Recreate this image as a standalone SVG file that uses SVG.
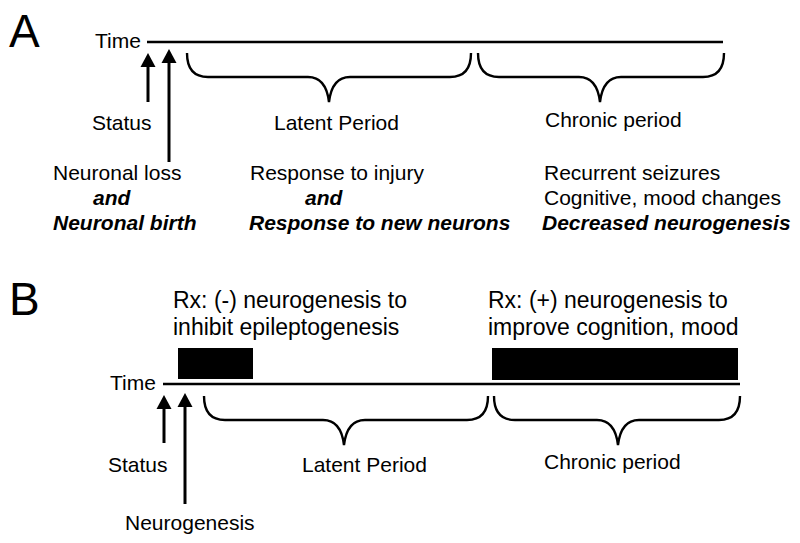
<svg xmlns="http://www.w3.org/2000/svg" width="800" height="543" viewBox="0 0 800 543">
<style>
text{font-family:"Liberation Sans",Arial,sans-serif;font-size:21px;fill:#000}
.big{font-size:46px}
.rx{font-size:23px}
.bi{font-weight:bold;font-style:italic}
.line{stroke:#000;stroke-width:2.4;fill:none}
.brace{stroke:#000;stroke-width:2.4;fill:none}
.arrow{stroke:#000;stroke-width:3;fill:none}
.head{fill:#000}
.bar{fill:#000}
</style>
<rect width="800" height="543" fill="#fff"/>
<g id="panelA">
  <text id="labelA" class="big" x="9" y="47">A</text>
  <g id="timeA"><text x="95" y="48">Time</text><line class="line" x1="147" y1="42" x2="723" y2="42"/></g>
  <g id="connectorsA">
    <line class="arrow" x1="148" y1="64" x2="148" y2="102"/>
    <polygon class="head" points="148,53 140.5,67 155.5,67"/>
    <line class="arrow" x1="169" y1="60" x2="169" y2="162"/>
    <polygon class="head" points="169,49 161.5,63 176.5,63"/>
    <path class="brace" d="M187,53 Q187,77 208,77 L308,77 Q326,77 329,102 Q332,77 350,77 L450,77 Q471,77 471,53"/>
    <path class="brace" d="M478,53 Q478,77 499,77 L579,77 Q597,77 600,102 Q603,77 621,77 L703,77 Q724,77 724,53"/>
  </g>
  <g id="statusA"><text x="92" y="130">Status</text></g>
  <g id="latentA"><text x="274" y="130">Latent Period</text></g>
  <g id="chronicA"><text x="545" y="127">Chronic period</text></g>
  <g id="lossA">
    <text x="53" y="180">Neuronal loss</text>
    <text class="bi" x="93" y="205">and</text>
    <text class="bi" x="53" y="230">Neuronal birth</text>
  </g>
  <g id="responseA">
    <text x="250" y="180">Response to injury</text>
    <text class="bi" x="305" y="205">and</text>
    <text class="bi" x="249" y="230">Response to new neurons</text>
  </g>
  <g id="recurrentA">
    <text x="544" y="180">Recurrent seizures</text>
    <text x="544" y="205">Cognitive, mood changes</text>
    <text class="bi" x="542" y="230">Decreased neurogenesis</text>
  </g>
</g>
<g id="panelB">
  <text id="labelB" class="big" x="9" y="315">B</text>
  <g id="rxMinus">
    <text class="rx" x="173" y="308">Rx: (-) neurogenesis to</text>
    <text class="rx" x="173" y="335">inhibit epileptogenesis</text>
    <rect class="bar" x="178" y="348" width="75" height="31"/>
  </g>
  <g id="rxPlus">
    <text class="rx" x="488" y="308">Rx: (+) neurogenesis to</text>
    <text class="rx" x="488" y="335">improve cognition, mood</text>
    <rect class="bar" x="492" y="348" width="246" height="32"/>
  </g>
  <g id="timeB"><text x="110" y="390">Time</text><line class="line" x1="163" y1="384" x2="740" y2="384"/></g>
  <g id="connectorsB">
    <line class="arrow" x1="164" y1="405" x2="164" y2="443"/>
    <polygon class="head" points="164,395 156.5,409 171.5,409"/>
    <line class="arrow" x1="185" y1="404" x2="185" y2="504"/>
    <polygon class="head" points="185,393 177.5,407 192.5,407"/>
    <path class="brace" d="M204,396 Q204,420 225,420 L323,420 Q341,420 344,445 Q347,420 365,420 L467,420 Q488,420 488,396"/>
    <path class="brace" d="M494,396 Q494,420 515,420 L597,420 Q615,420 618,445 Q621,420 639,420 L719,420 Q740,420 740,396"/>
  </g>
  <g id="statusB"><text x="108" y="472">Status</text></g>
  <g id="latentB"><text x="302" y="472">Latent Period</text></g>
  <g id="chronicB"><text x="544" y="469">Chronic period</text></g>
  <g id="neurogenesisB"><text x="125" y="530">Neurogenesis</text></g>
</g>
</svg>
